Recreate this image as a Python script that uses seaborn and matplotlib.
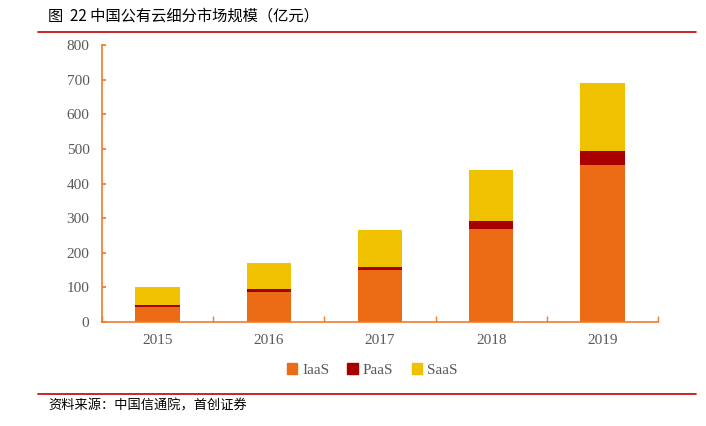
import numpy as np
import pandas as pd
import matplotlib
matplotlib.use('Agg')
import matplotlib.pyplot as plt
from matplotlib.patches import Patch
import seaborn as sns

# data (亿元)
years = ['2015', '2016', '2017', '2018', '2019']
iaas = [44, 88, 150, 270, 453]
paas = [4, 7, 10, 22, 41]
saas = [54, 75, 106, 147, 196]

c_iaas = '#EC6C16'
c_paas = '#A80000'
c_saas = '#EFC100'
c_axis = '#F07A2A'

sns.set_theme(style='white')
plt.rcParams['font.family'] = ['Liberation Serif', 'Noto Sans CJK SC', 'DejaVu Sans']

df = pd.DataFrame({'year': years, 'IaaS': iaas, 'PaaS': paas, 'SaaS': saas})
df['lvl2'] = df['IaaS'] + df['PaaS']
df['lvl3'] = df['lvl2'] + df['SaaS']

fig = plt.figure(figsize=(7.06, 4.26), dpi=100)
ax = fig.add_axes([102/706, 1-322/426, 556/706, 277/426])

# stacked bars: draw totals first, then cover with lower levels
sns.barplot(data=df, x='year', y='lvl3', color=c_saas, width=0.4, saturation=1, ax=ax)
sns.barplot(data=df, x='year', y='lvl2', color=c_paas, width=0.4, saturation=1, ax=ax)
sns.barplot(data=df, x='year', y='IaaS', color=c_iaas, width=0.4, saturation=1, ax=ax)
for p in ax.patches:
    p.set_linewidth(0)

ax.set_xlim(-0.5, 4.5)
ax.set_ylim(0, 800)
ax.set_yticks(range(0, 801, 100))
ax.set_xlabel('')
ax.set_ylabel('')

for s in ['top', 'right']:
    ax.spines[s].set_visible(False)
for s in ['left', 'bottom']:
    ax.spines[s].set_color(c_axis)
    ax.spines[s].set_linewidth(1.2)

ax.tick_params(axis='y', direction='in', length=3, color=c_axis, left=True,
               labelsize=11, labelcolor='#595959', pad=9)
ax.tick_params(axis='x', which='major', length=0, labelsize=11,
               labelcolor='#595959', pad=9)
ax.set_xticks(np.arange(-0.5, 4.6, 1), minor=True)
ax.tick_params(axis='x', which='minor', direction='in', length=4,
               color=c_axis, bottom=True)

handles = [Patch(color=c_iaas, label='IaaS'), Patch(color=c_paas, label='PaaS'),
           Patch(color=c_saas, label='SaaS')]
leg = fig.legend(handles=handles, loc='center', bbox_to_anchor=(372/706, 1-370/426),
                 ncol=3, frameon=False, fontsize=11, handlelength=0.7,
                 handleheight=0.7, handletextpad=0.3, columnspacing=1.2)
for t in leg.get_texts():
    t.set_color('#595959')

cjk = ['Noto Sans CJK SC', 'DejaVu Sans']
fig.text(48/706, 1-16/426, '图  22 中国公有云细分市场规模（亿元）', family=cjk,
         fontsize=11, va='center', ha='left', color='black')
fig.add_artist(plt.Line2D([38/706, 696/706], [1-32/426, 1-32/426], color='#C00000', lw=1.2))
fig.add_artist(plt.Line2D([38/706, 696/706], [1-394/426, 1-394/426], color='#C00000', lw=1.2))
fig.text(48/706, 1-406/426, '资料来源：中国信通院，首创证券', family=cjk,
         fontsize=9.5, va='center', ha='left', color='black', style='italic')

fig.savefig('out.png', dpi=100)
